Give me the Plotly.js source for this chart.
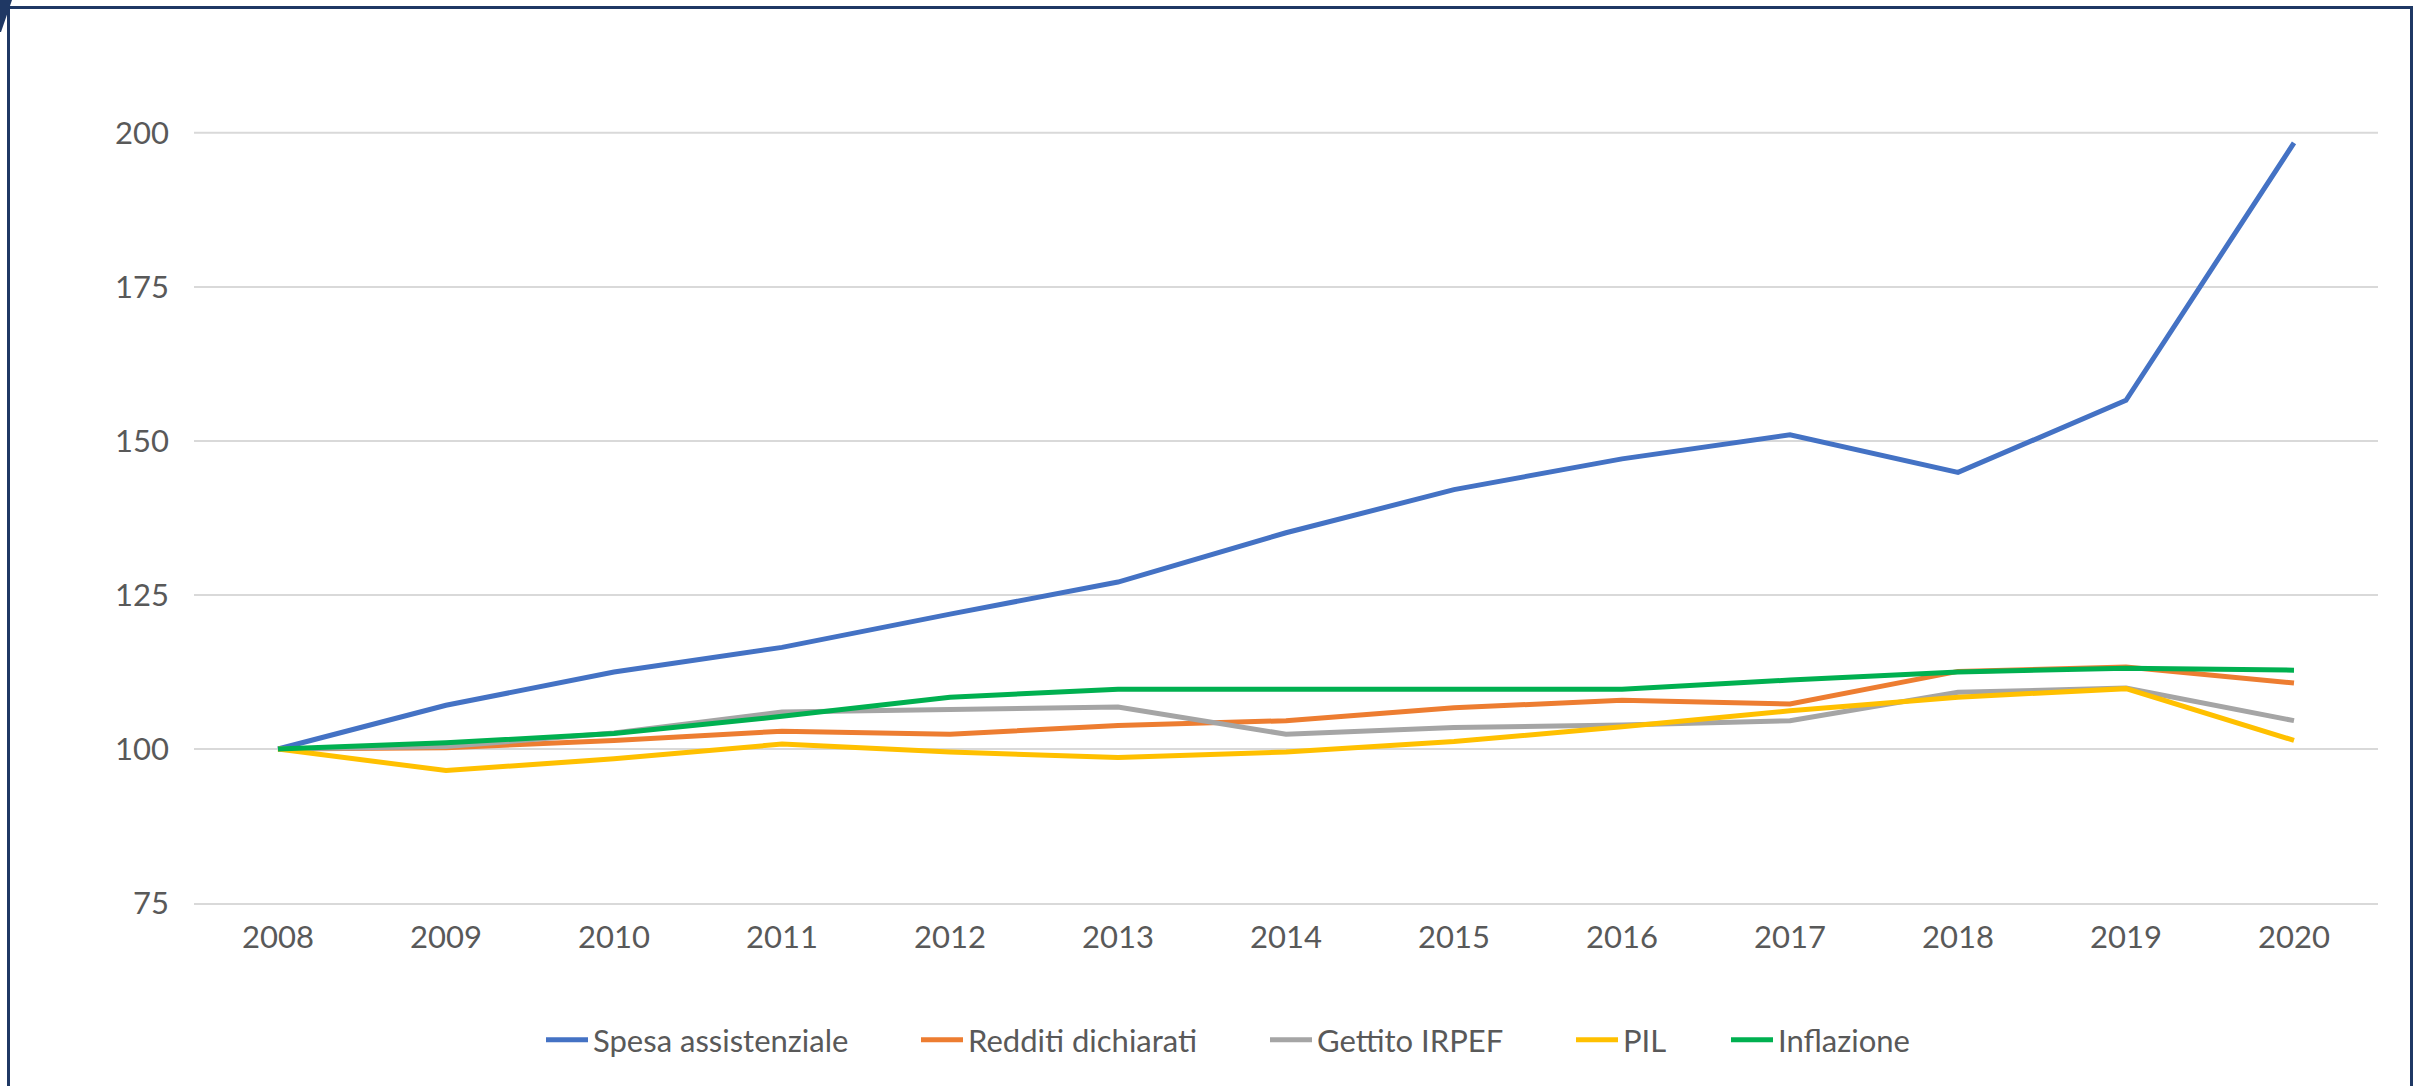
<!DOCTYPE html>
<html>
<head>
<meta charset="utf-8">
<script src="https://cdn.plot.ly/plotly-3.0.1.min.js"></script>
<style>html,body{margin:0;padding:0;background:#fff;}#chart{width:2422px;height:1086px;}</style>
</head>
<body>
<div id="chart"></div>
<script>
const years = ["2008","2009","2010","2011","2012","2013","2014","2015","2016","2017","2018","2019","2020"];
const spesaAssistenziale = [100, 107.1, 112.5, 116.5, 121.9, 127.1, 135.1, 142.1, 147.1, 151.0, 144.9, 156.6, 198.4];
const redditiDichiarati = [100, 100.2, 101.4, 102.9, 102.4, 103.8, 104.6, 106.7, 107.9, 107.3, 112.6, 113.3, 110.7];
const gettitoIrpef = [100, 100.4, 102.6, 106.0, 106.4, 106.8, 102.4, 103.5, 103.9, 104.6, 109.2, 109.9, 104.6];
const pil = [100, 96.5, 98.4, 100.8, 99.5, 98.6, 99.5, 101.2, 103.6, 106.2, 108.4, 109.8, 101.4];
const inflazione = [100, 101.0, 102.5, 105.3, 108.4, 109.7, 109.7, 109.8, 109.7, 111.2, 112.5, 113.1, 112.8];
const seriesNames = ["Spesa assistenziale", "Redditi dichiarati", "Gettito IRPEF", "PIL", "Inflazione"];
const seriesColors = ["#4472C4", "#ED7D31", "#A5A5A5", "#FFC000", "#00B050"];
const yTicks = [75, 100, 125, 150, 175, 200];

// plot area geometry (px)
const L = 194, R = 44, T = 133, B = 183, W = 2422, H = 1086;
const pw = W - L - R, ph = H - T - B;
const px = v => (v - L) / pw;
const py = v => (H - B - v) / ph;

// legend entry left positions (px) for each series
const legendLeft = [541, 916, 1265, 1571, 1726];
const legendIds = ["legend", "legend2", "legend3", "legend4", "legend5"];

const allSeries = [spesaAssistenziale, redditiDichiarati, gettitoIrpef, pil, inflazione];
const traces = allSeries.map((vals, i) => ({
  type: "scatter",
  mode: "lines",
  x: years,
  y: vals,
  name: seriesNames[i],
  legend: legendIds[i],
  line: {color: seriesColors[i], width: 5}
}));

const layout = {
  width: W, height: H,
  paper_bgcolor: "#ffffff", plot_bgcolor: "#ffffff",
  margin: {l: L, r: R, t: T, b: B, pad: 0},
  font: {family: "Lato, 'Open Sans', sans-serif", size: 31, color: "#595959"},
  showlegend: true,
  xaxis: {
    type: "category",
    range: [-0.5, 12.5],
    showgrid: false,
    zeroline: false,
    showline: true, linecolor: "#D9D9D9", linewidth: 2,
    ticks: "",
    ticklabelstandoff: 6,
    tickfont: {family: "Lato, sans-serif", size: 31, color: "#595959"},
    fixedrange: true
  },
  yaxis: {
    range: [75, 200],
    tickvals: yTicks,
    ticktext: yTicks.map(String),
    showgrid: true, gridcolor: "#D9D9D9", gridwidth: 2,
    zeroline: false, showline: false,
    ticks: "",
    ticklabelstandoff: 24,
    tickfont: {family: "Lato, sans-serif", size: 31, color: "#595959"},
    fixedrange: true
  },
  shapes: [
    {type: "rect", xref: "paper", yref: "paper",
     x0: px(8.5), x1: px(2411.5), y0: py(1100), y1: py(7.5),
     line: {color: "#1F3864", width: 3}, fillcolor: "rgba(0,0,0,0)", layer: "above"},
    {type: "line", xref: "paper", yref: "paper",
     x0: px(194), x1: px(2378), y0: py(132.7), y1: py(132.7),
     line: {color: "#D9D9D9", width: 2}, layer: "below"},
    {type: "path", xref: "paper", yref: "paper",
     path: "M " + px(0) + " " + py(0) + " L " + px(12) + " " + py(0) + " L " + px(1) + " " + py(32) + " L " + px(0) + " " + py(32) + " Z",
     fillcolor: "#1F3864", line: {width: 0}, layer: "above"}
  ]
};

legendIds.forEach((id, i) => {
  layout[id] = {
    orientation: "h",
    x: px(legendLeft[i]), xanchor: "left",
    y: py(1040), yanchor: "middle",
    bgcolor: "rgba(0,0,0,0)",
    font: {family: "Lato, sans-serif", size: 31, color: "#595959"},
    itemwidth: 42
  };
});

Plotly.newPlot("chart", traces, layout, {displayModeBar: false, staticPlot: true});
</script>
</body>
</html>
